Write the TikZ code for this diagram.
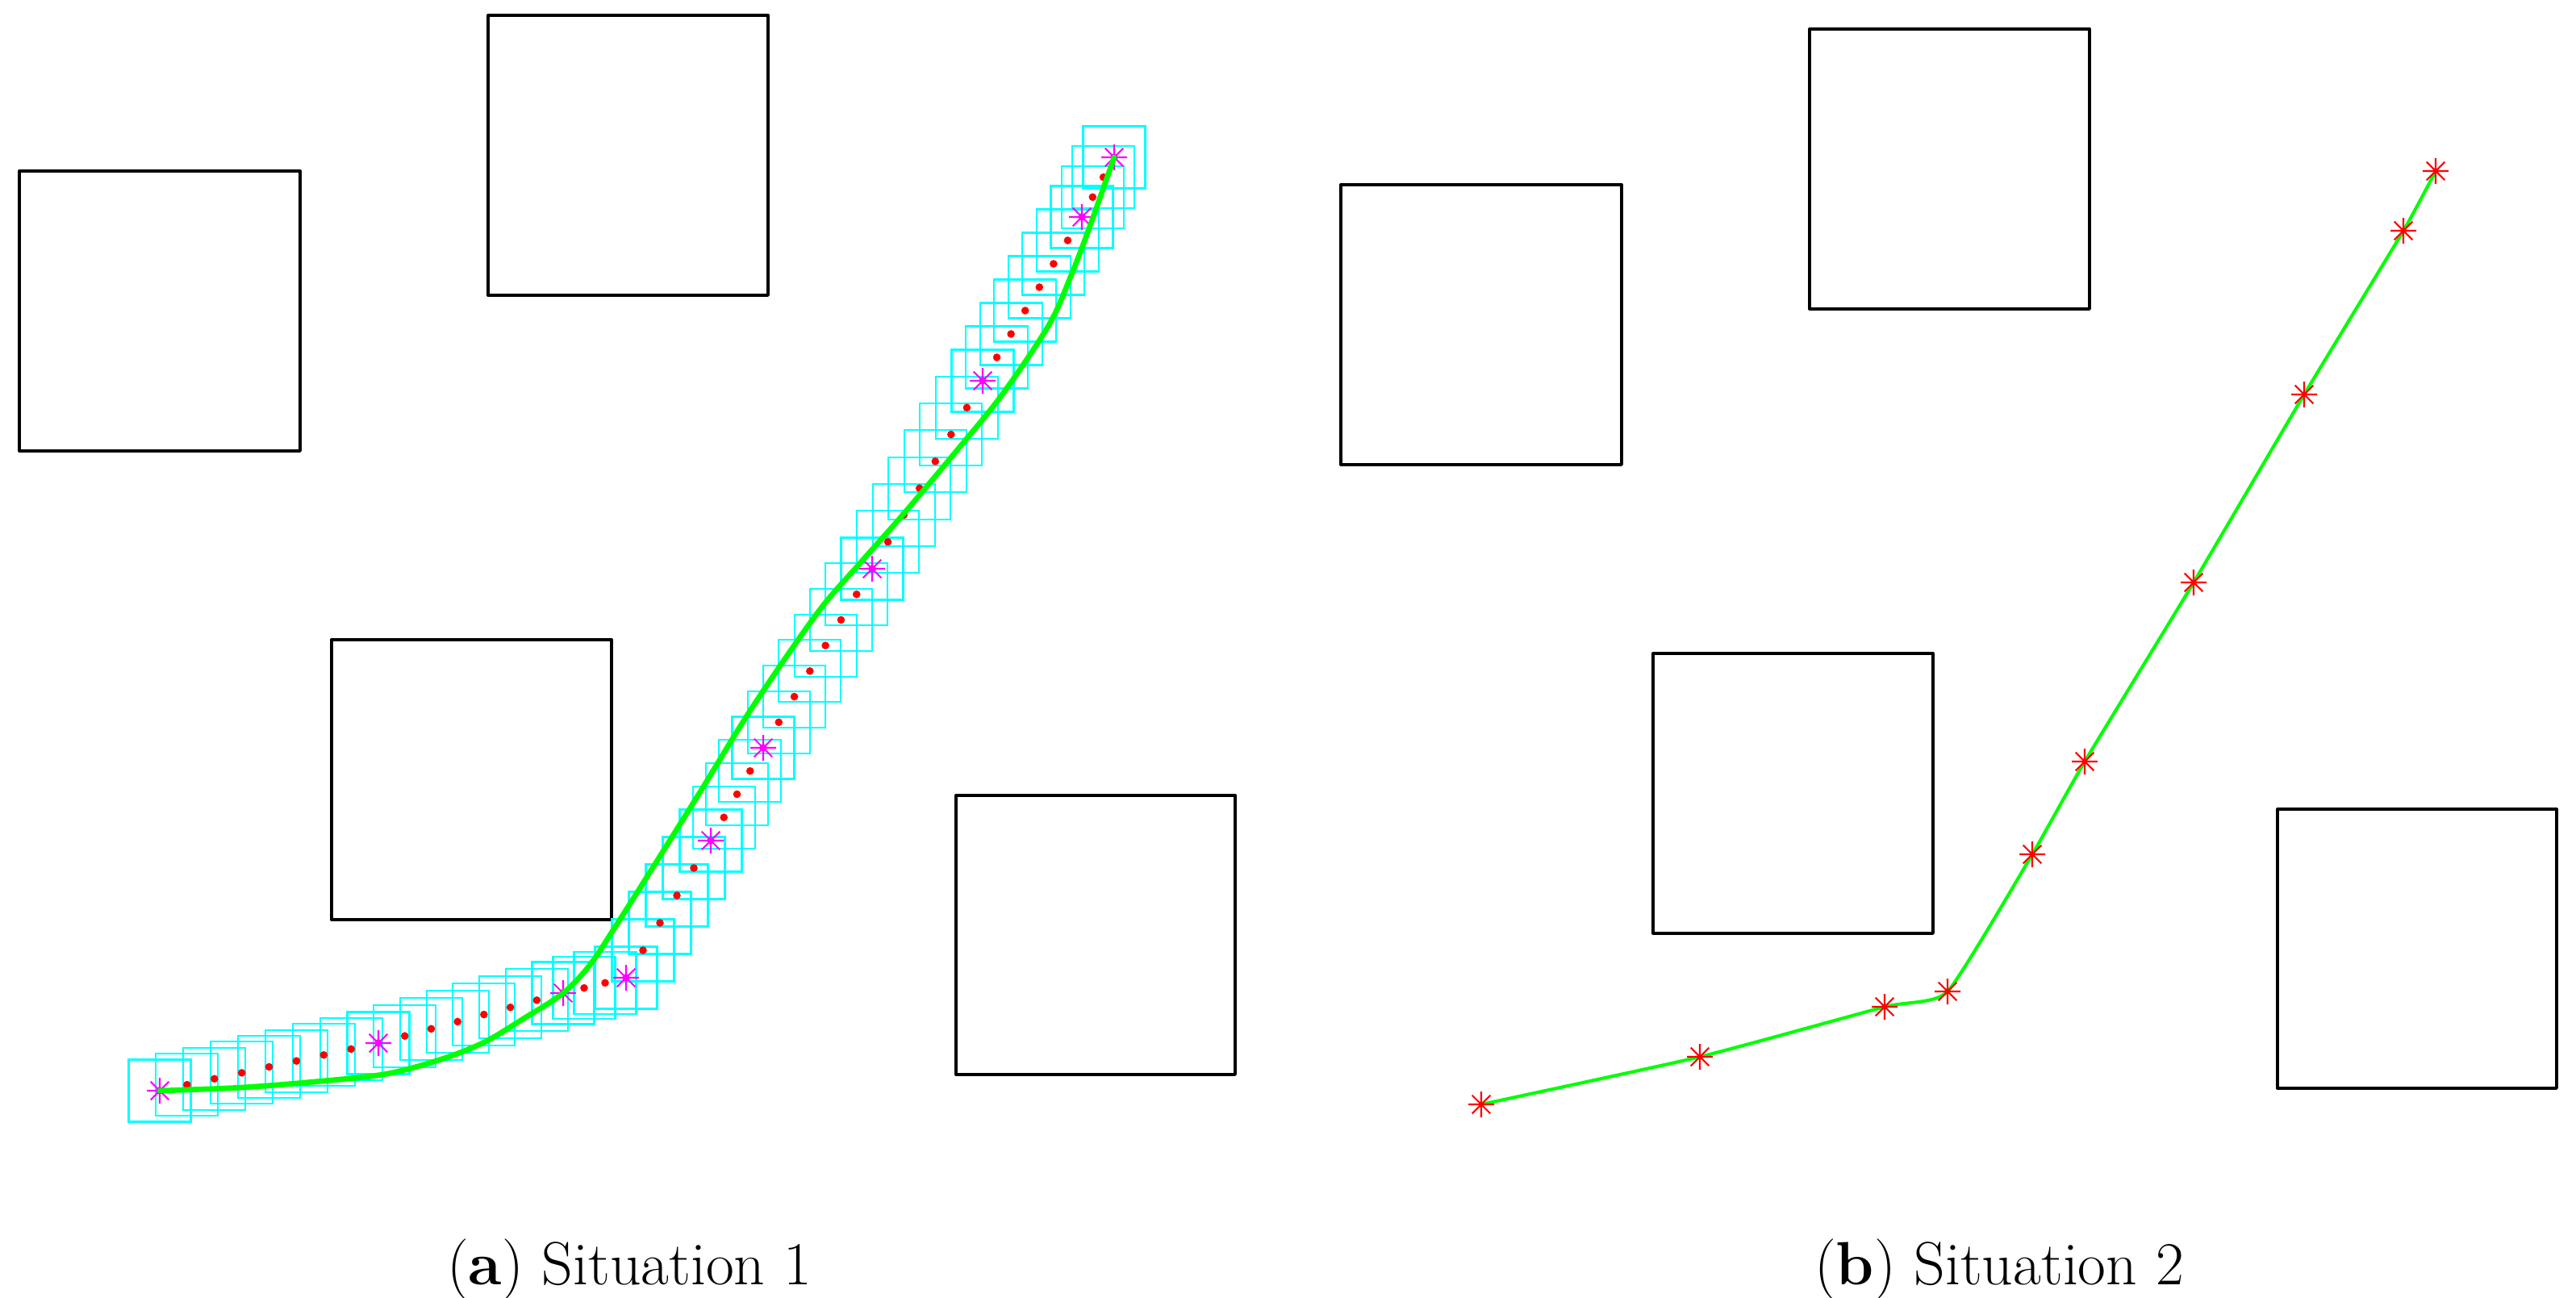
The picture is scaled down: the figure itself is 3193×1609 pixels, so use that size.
\documentclass[tikz,border=0pt]{standalone}
\usetikzlibrary{calc}
\definecolor{mgreen}{rgb}{0,1,0}
\definecolor{mcyan}{rgb}{0,1,1}
\definecolor{mred}{rgb}{1,0,0}
\definecolor{mmag}{rgb}{1,0,1}
\tikzset{
  obstacle/.style={draw=black, line width=0.95pt, line join=round},
  cyanbox/.style={draw=mcyan, line width=0.6pt},
  reddot/.style={fill=mred, draw=none},
  magdot/.style={fill=mmag, draw=none},
  pathA/.style={draw=mgreen, line width=1.9pt, line cap=round, line join=round},
  pathB/.style={draw=mgreen, line width=1.15pt, line cap=round, line join=round},
  starline/.style={line width=0.6pt},
  caption/.style={font=\fontsize{21.5}{26}\selectfont, anchor=base, inner sep=0pt},
}
\newcommand\starmark[3]{%
  \draw[starline,#3] (#1-16,#2)--(#1+16,#2) (#1,#2-16)--(#1,#2+16)
    (#1-11.3,#2-11.3)--(#1+11.3,#2+11.3) (#1-11.3,#2+11.3)--(#1+11.3,#2-11.3);}
\begin{document}
\begin{tikzpicture}[x=0.01cm,y=-0.01cm]
\path[use as bounding box] (0,0) rectangle (3193,1609);

% obstacles (both panels)
\foreach \ox/\oy in {0/0, 1638/17}{
  \draw[obstacle] (24+\ox,212+\oy) rectangle ++(348,347);
  \draw[obstacle] (605+\ox,19+\oy) rectangle ++(347,347);
  \draw[obstacle] (411+\ox,793+\oy) rectangle ++(347,347);
  \draw[obstacle] (1185+\ox,986+\oy) rectangle ++(346,346);
}

% ---- Situation 1: sampled boxes, dots, waypoints ----
\def\segs{198/1352/469/1293/8, 469/1293/698/1231/7, 698/1231/776/1212/3,
  776/1212/881/1042/5, 881/1042/946/927/4, 946/927/1081/705/7,
  1081/705/1218/472/7, 1218/472/1341/269/7, 1341/269/1381/195/3}
% cyan boxes
\foreach \ax/\ay/\bx/\by/\n in \segs{
  \foreach \i in {0,...,\n}{
    \pgfmathsetmacro\px{\ax+(\bx-\ax)*\i/\n}
    \pgfmathsetmacro\py{\ay+(\by-\ay)*\i/\n}
    \draw[cyanbox] (\px-38.5,\py-38.5) rectangle ++(77,77);
  }
}
% red dots
\foreach \ax/\ay/\bx/\by/\n in \segs{
  \pgfmathtruncatemacro\m{\n-1}
  \foreach \i in {1,...,\m}{
    \pgfmathsetmacro\px{\ax+(\bx-\ax)*\i/\n}
    \pgfmathsetmacro\py{\ay+(\by-\ay)*\i/\n}
    \fill[reddot] (\px,\py) circle (4.8);
  }
}
% magenta waypoints
\foreach \x/\y in {198/1352, 469/1293, 698/1231, 776/1212, 881/1042, 946/927,
  1081/705, 1218/472, 1341/269, 1381/195}{
  \fill[magdot] (\x,\y) circle (4.8);
  \starmark{\x}{\y}{mmag}
}
% green smoothed trajectory
\draw[pathA] plot[smooth, tension=0.55] coordinates {
  (198,1352) (300,1348) (400,1340) (480,1331) (547,1313) (600,1292)
  (650,1262) (698,1231) (732,1195) (765,1145) (800,1090) (867,983)
  (933,876) (1013,760) (1067,697) (1120,637) (1193,550) (1243,488)
  (1300,403) (1327,343) (1350,283) (1381,195)};

% ---- Situation 2 ----
\draw[pathB] plot[smooth, tension=0.3] coordinates {
  (1836,1369) (2107,1310) (2336,1248) (2414,1229) (2519,1059) (2584,944)
  (2719,722) (2856,489) (2979,286) (3019,212)};
\foreach \x/\y in {1836/1369, 2107/1310, 2336/1248, 2414/1229, 2519/1059,
  2584/944, 2719/722, 2856/489, 2979/286, 3019/212}{
  \starmark{\x}{\y}{mred}
}

% captions
\node[caption] (capa) at (780,1592) {(\textbf{a}) Situation 1};
\node[caption] (capb) at (2478,1592) {(\textbf{b}) Situation 2};
\end{tikzpicture}
\end{document}
